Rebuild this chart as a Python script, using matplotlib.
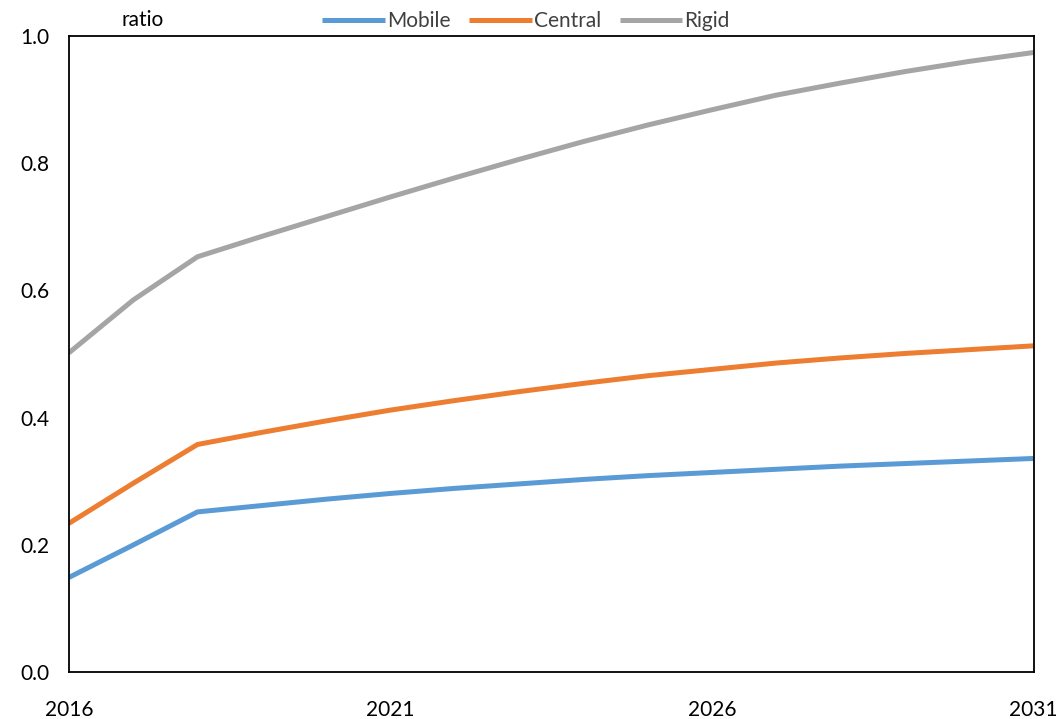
import matplotlib.pyplot as plt
import numpy as np

plt.rcParams['font.family'] = ['Lato', 'DejaVu Sans']

years = list(range(2016, 2032))
mobile = [0.149, 0.200, 0.252, 0.262, 0.272, 0.281, 0.289, 0.296,
          0.303, 0.309, 0.314, 0.319, 0.324, 0.328, 0.332, 0.336]
central = [0.234, 0.297, 0.358, 0.377, 0.395, 0.412, 0.427, 0.441,
           0.454, 0.466, 0.476, 0.486, 0.494, 0.501, 0.507, 0.513]
rigid = [0.502, 0.585, 0.653, 0.685, 0.716, 0.747, 0.777, 0.806,
         0.834, 0.860, 0.884, 0.907, 0.926, 0.944, 0.960, 0.974]

series = {'Mobile': (mobile, '#5B9BD5'),
          'Central': (central, '#ED7D31'),
          'Rigid': (rigid, '#A5A5A5')}

fig = plt.figure(figsize=(10.6, 7.19), dpi=100)
ax = fig.add_axes([0.065, 0.065, 0.91, 0.885])

for name, (vals, col) in series.items():
    ax.plot(years, vals, color=col, lw=3.6, label=name, solid_capstyle='butt')

ax.set_xlim(2016, 2031)
ax.set_ylim(0, 1.0)
ax.set_xticks([2016, 2021, 2026, 2031])
ax.set_yticks(np.arange(0, 1.01, 0.2))
ax.set_yticklabels(['%.1f' % v for v in np.arange(0, 1.01, 0.2)])
ax.tick_params(length=0, labelsize=15, colors='black')
ax.tick_params(axis='x', pad=20)
ax.tick_params(axis='y', pad=14)
for s in ax.spines.values():
    s.set_linewidth(1.3)

ax.text(0.055, 1.01, 'ratio', transform=ax.transAxes, fontsize=15, va='bottom')

ax.legend(loc='lower center', bbox_to_anchor=(0.474, 0.995), ncol=3, frameon=False,
          fontsize=15, handlelength=3, handletextpad=0.1, columnspacing=0.9,
          borderaxespad=0, labelcolor='#404040')

fig.savefig('out.png', dpi=100)
